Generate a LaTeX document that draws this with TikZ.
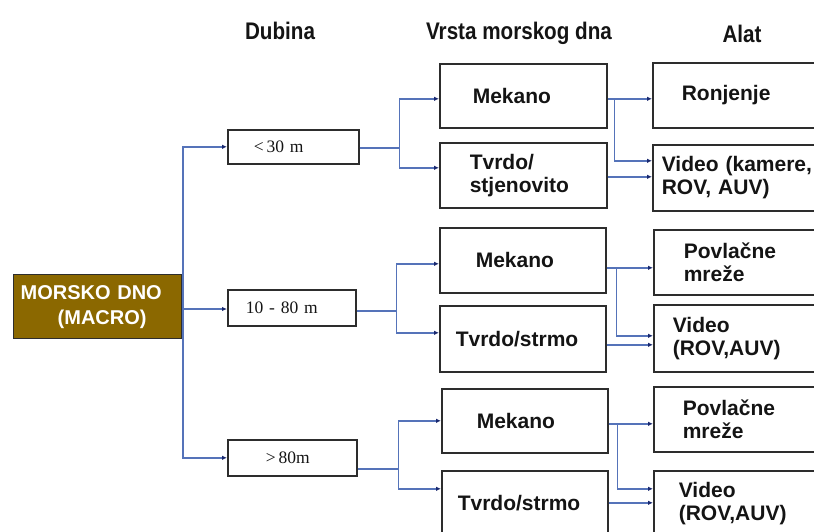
\documentclass[tikz,border=0pt]{standalone}
\usepackage{fontspec}
\setmainfont{Liberation Sans}
\newfontfamily\headfont[FakeStretch=0.86]{Liberation Sans}
\newfontfamily\serifdepth{Liberation Serif}
\usetikzlibrary{arrows.meta}
\definecolor{conn}{RGB}{85,115,185}
\definecolor{tipc}{RGB}{25,40,110}
\definecolor{brownfill}{RGB}{139,104,0}
\definecolor{edgec}{RGB}{45,45,45}
\definecolor{txt}{RGB}{20,20,20}
\begin{document}
\begin{tikzpicture}[x=1pt,y=-1pt,
  box/.style={draw=edgec, line width=1.6pt, anchor=north west, inner ysep=0pt, align=left, text=txt,
    font=\bfseries\fontsize{21}{23}\selectfont},
  depth/.style={draw=edgec, line width=1.6pt, anchor=north west, inner ysep=0pt, align=left, text=txt,
    font=\serifdepth\fontsize{17.5}{19}\selectfont},
  root/.style={draw=edgec, line width=1.4pt, fill=brownfill, anchor=north west, inner ysep=0pt, align=left,
    text=white, font=\bfseries\fontsize{20}{25}\selectfont},
  head/.style={anchor=base, text=txt, font=\headfont\bfseries\fontsize{24}{26}\selectfont},
  line/.style={draw=conn, line width=1.5pt},
  arr/.style={line, -{Latex[length=5pt,width=4.5pt,color=tipc]}}]
\useasboundingbox (0,0) rectangle (814,531);
\clip (0,0) rectangle (814,531);

% headers
\node[head] (h1) at (280,39) {Dubina};
\node[head] (h2) at (519,39) {Vrsta morskog dna};
\node[head] (h3) at (742,42) {Alat};

% root
\node[root, minimum height=64pt, text width=154pt, inner xsep=7pt] (md) at (13,274)
  {MORSKO DNO\\\hspace*{37pt}(MACRO)};

% depth boxes
\node[depth, minimum height=34pt, text width=79pt, inner xsep=26pt] (d1) at (227,129) {<\,30 m};
\node[depth, minimum height=36pt, text width=92pt, inner xsep=18pt] (d2) at (227,289) {10 - 80 m};
\node[depth, minimum height=36pt, text width=53pt, inner xsep=38pt] (d3) at (227,439) {>\,80m};

% seabed type boxes
\node[box, minimum height=64pt, text width=101pt, inner xsep=33pt] (t1a) at (439,63) {Mekano};
\node[box, minimum height=65pt, text width=107pt, inner xsep=30pt] (t1b) at (439,142) {Tvrdo/\\stjenovito};
\node[box, minimum height=65pt, text width=94pt, inner xsep=36pt] (t2a) at (439,227) {Mekano};
\node[box, minimum height=66pt, text width=134pt, inner xsep=16pt] (t2b) at (439,305) {Tvrdo/strmo};
\node[box, minimum height=64pt, text width=96pt, inner xsep=35pt] (t3a) at (441,388) {Mekano};
\node[box, minimum height=64pt, text width=134pt, inner xsep=16pt] (t3b) at (441,470) {Tvrdo/strmo};

% tool boxes
\node[box, minimum height=65pt, text width=122pt, inner xsep=29pt] (r1a) at (652,62) {Ronjenje};
\node[box, minimum height=66pt, text width=162pt, inner xsep=9pt] (r1b) at (652,144) {Video (kamere,\\ROV, AUV)};
\node[box, minimum height=65pt, text width=120pt, inner xsep=30pt] (r2a) at (653,229) {Povlačne\\mreže};
\node[box, minimum height=67pt, text width=142pt, inner xsep=19pt] (r2b) at (653,304) {Video\\(ROV,AUV)};
\node[box, minimum height=65pt, text width=122pt, inner xsep=29pt] (r3a) at (653,386) {Povlačne\\mreže};
\node[box, minimum height=66pt, text width=130pt, inner xsep=25pt] (r3b) at (653,470) {Video\\(ROV,AUV)};

% root to depth
\coordinate (tr) at (183,309);
\draw[arr] (md.east |- tr) -- (tr -| d2.west);
\draw[arr] (tr) |- (d1.west);
\draw[arr] (tr) |- (d3.west);

% depth to type
\coordinate (e1) at ([yshift=-1pt]d1.east);
\draw[line] (e1) -- ++(40,0) coordinate (j1);
\draw[arr] (j1) |- ([yshift=-3pt]t1a.west);
\draw[arr] (j1) |- ([yshift=7.5pt]t1b.west);

\coordinate (e2) at ([yshift=-3pt]d2.east);
\draw[line] (e2) -- ++(40,0) coordinate (j2);
\draw[arr] (j2) |- ([yshift=-3.5pt]t2a.west);
\draw[arr] (j2) |- ([yshift=6pt]t2b.west);

\coordinate (e3) at ([yshift=-11pt]d3.east);
\draw[line] (e3) -- ++(41,0) coordinate (j3);
\draw[arr] (j3) |- (t3a.west);
\draw[arr] (j3) |- ([yshift=14pt]t3b.west);

% type to tool
\coordinate (m1) at ([yshift=-3pt]t1a.east);
\coordinate (n1) at ([yshift=-1.5pt]t1b.east);
\draw[arr] (m1) -- (m1 -| r1a.west);
\draw[arr] ([xshift=7pt]m1) |- ([yshift=17pt]r1b.west);
\draw[arr] (n1) -- (n1 -| r1b.west);

\coordinate (m2) at ([yshift=-7.5pt]t2a.east);
\coordinate (n2) at ([yshift=-6pt]t2b.east);
\draw[arr] (m2) -- (m2 -| r2a.west);
\draw[arr] ([xshift=10pt]m2) |- ([yshift=2.5pt]r2b.west);
\draw[arr] (n2) -- (n2 -| r2b.west);

\coordinate (m3) at ([yshift=-3pt]t3a.east);
\draw[arr] (m3) -- (m3 -| r3a.west);
\draw[arr] ([xshift=9pt]m3) |- ([yshift=15pt]r3b.west);
\draw[arr] (t3b.east) -- (t3b.east -| r3b.west);
\end{tikzpicture}
\end{document}
